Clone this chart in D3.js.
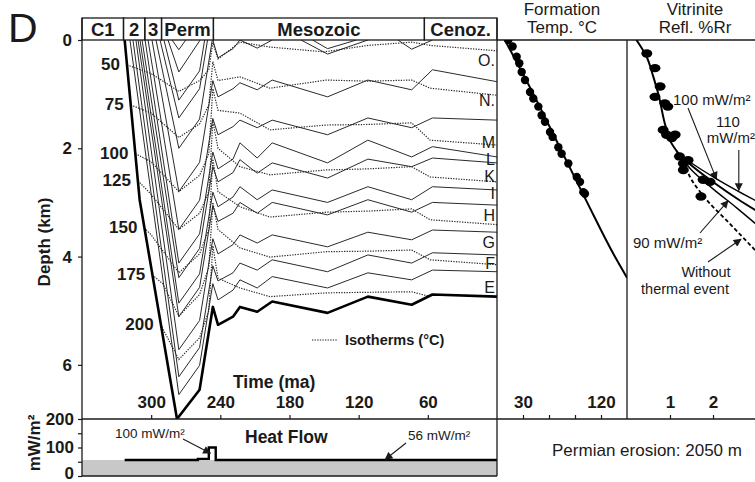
<!DOCTYPE html>
<html>
<head>
<meta charset="utf-8">
<script src="https://cdn.jsdelivr.net/npm/d3@7"></script>
<style>
  body { margin: 0; background: #fff; }
  svg { display: block; font-family: "Liberation Sans", Arial, sans-serif; }
</style>
</head>
<body>
<svg id="chart" width="755" height="482"></svg>
<script>
// ---- data ----------------------------------------------------------
const PERIOD_NAMES = ["C1", "2", "3", "Perm", "Mesozoic", "Cenoz."];
const PERIOD_BOUNDS = [360, 324, 305.5, 291, 246, 63, 0];
const TIME_TICKS = [300, 240, 180, 120, 60];
const DEPTH_TICKS = [0, 2, 4, 6];
const HF_TICKS = [0, 50, 100, 150, 200];
const HF_LABELS = [0, 100, 200];

// burial paths as [age Ma, depth km]
const BASE_PATH = [[323, 0], [310, 2.95], [277.6, 7.0], [258, 6.46], [246.5, 4.93], [242, 5.26], [229, 5.11],
  [223, 4.93], [208, 5.02], [195, 4.83], [147, 5.04], [112, 4.74], [74, 4.89], [56, 4.7], [0, 4.74]];

const ERODED_HORIZONS = [
  [[281.9, 0], [276, 0.18], [270, 0]],
  [[285.4, 0], [276, 0.59], [257.5, 0]],
  [[288.9, 0], [276, 1.11], [258, 0.57], [253.6, 0]],
  [[292.3, 0], [276, 1.44], [258, 0.9], [251.1, 0]],
  [[295.8, 0], [276, 2.0], [258, 1.46], [247, 0]],
];

const DEEP_HORIZONS = [
  [[299.3, 0], [276, 2.8], [258, 2.26], [246.5, 0.75], [242, 1.05], [229, 0.9], [223, 0.79], [208, 0.92], [195, 0.74], [147, 1.05], [112, 0.74], [74, 0.92], [56, 0.55], [0, 0.77]],
  [[302.7, 0], [276, 3.5], [258, 2.96], [246.5, 1.45], [242, 1.75], [229, 1.6], [223, 1.48], [208, 1.62], [195, 1.48], [147, 1.75], [112, 1.44], [74, 1.62], [56, 1.44], [0, 1.48]],
  [[305.3, 0], [276, 4.12], [258, 3.58], [246.5, 2.07], [242, 2.38], [229, 2.2], [223, 1.9], [208, 2.18], [195, 1.9], [147, 2.27], [112, 1.85], [74, 2.16], [56, 1.97], [0, 2.16]],
  [[307.9, 0], [276, 4.39], [258, 3.85], [246.5, 2.34], [242, 2.62], [229, 2.45], [223, 2.21], [208, 2.46], [195, 2.27], [147, 2.55], [112, 2.2], [74, 2.34], [56, 2.18], [0, 2.27]],
  [[309.7, 0], [276, 4.86], [258, 4.32], [246.5, 2.81], [242, 3.08], [229, 2.9], [223, 2.71], [208, 2.95], [195, 2.77], [147, 3.0], [112, 2.71], [74, 2.95], [56, 2.71], [0, 2.77]],
  [[311.4, 0], [276, 5.11], [258, 4.57], [246.5, 3.06], [242, 3.35], [229, 3.2], [223, 3.0], [208, 3.2], [195, 3.0], [147, 3.23], [112, 2.95], [74, 3.18], [56, 3.0], [0, 3.05]],
  [[313.2, 0], [276, 5.72], [258, 5.18], [246.5, 3.67], [242, 3.95], [229, 3.78], [223, 3.6], [208, 3.75], [195, 3.6], [147, 3.82], [112, 3.55], [74, 3.69], [56, 3.51], [0, 3.55]],
  [[315.8, 0], [276, 6.22], [258, 5.68], [246.5, 4.17], [242, 4.45], [229, 4.3], [223, 4.12], [208, 4.25], [195, 4.06], [147, 4.28], [112, 3.97], [74, 4.12], [56, 3.93], [0, 3.97]],
  [[318.4, 0], [276, 6.55], [258, 6.01], [246.5, 4.5], [242, 4.8], [229, 4.62], [223, 4.43], [208, 4.58], [195, 4.37], [147, 4.58], [112, 4.3], [74, 4.43], [56, 4.25], [0, 4.28]],
];

const MESO_HORIZONS = [
  [[246.5, 0], [242, 0.33], [229, 0.16], [223, 0]],
  [[223, 0], [208, 0.15], [195, 0]],
  [[170, 0], [147, 0.26], [112, 0]],
  [[160, 0], [147, 0.16], [122, 0]],
  [[86, 0], [74, 0.17], [56, 0]],
];

const ISO_VALUES = [50, 75, 100, 125, 150, 175, 200];
const ISO_PATHS = [
  [[321, 0.46], [300, 0.62], [276, 0.95], [258, 0.75], [250, 0.55], [246.5, 0.05], [242, 0.35], [223, 0.04], [197, 0.13], [150, 0.22], [112, 0.1], [74, 0.04], [58, 0.1], [0, 0.2]],
  [[317.7, 1.2], [300, 1.35], [276, 1.8], [258, 1.55], [250, 1.2], [246.5, 0.4], [242, 0.75], [223, 0.68], [197, 0.89], [148, 0.74], [112, 0.76], [74, 0.74], [58, 0.89], [0, 1.02]],
  [[313.7, 2.1], [300, 2.25], [276, 2.8], [258, 2.5], [250, 2.1], [246.5, 0.9], [242, 1.3], [223, 1.35], [197, 1.66], [148, 1.57], [112, 1.56], [74, 1.53], [58, 1.85], [0, 1.94]],
  [[311.5, 2.6], [300, 2.85], [276, 3.5], [258, 3.2], [250, 2.8], [246.5, 1.5], [242, 2.0], [223, 2.34], [197, 2.49], [148, 2.4], [112, 2.38], [74, 2.34], [58, 2.53], [0, 2.62]],
  [[305.9, 3.47], [300, 3.6], [276, 4.3], [258, 3.95], [250, 3.5], [246.5, 2.2], [242, 2.8], [223, 3.08], [197, 3.27], [148, 3.18], [112, 3.16], [74, 3.12], [58, 3.32], [0, 3.41]],
  [[299, 4.34], [290, 4.5], [276, 5.1], [258, 4.7], [250, 4.2], [246.5, 3.0], [242, 3.5], [223, 3.84], [197, 4.01], [148, 3.91], [112, 3.9], [74, 3.88], [58, 4.06], [0, 4.15]],
  [[291.7, 5.26], [276, 5.9], [258, 5.5], [250, 5.0], [246.5, 3.8], [242, 4.4], [223, 4.58], [197, 4.74], [148, 4.67], [112, 4.66], [74, 4.65], [58, 4.74], [0, 4.74]],
];

const FORMATION_NAMES = ["O.", "N.", "M", "L", "K", "I", "H", "G", "F", "E"];
const FORMATION_DEPTHS = [0.37, 1.11, 1.88, 2.2, 2.51, 2.82, 3.23, 3.73, 4.12, 4.56];

// heat flow history, [age Ma, mW/m2]
const HEAT_FLOW = [[323, 56], [259.5, 56], [259.5, 60], [250, 60], [250, 100], [244, 100], [244, 56], [0, 56]];
const HEAT_FLOW_BACKGROUND = [[360, 56], [0, 56]];

// present-day formation temperature, [depth km, °C]
const TEMP_POINTS = [[0, 13], [0.12, 18], [0.31, 22.7], [0.43, 25.7], [0.59, 28.5], [0.74, 32.3], [0.96, 38.1],
  [1.08, 41.9], [1.23, 47.7], [1.39, 51.5], [1.51, 55.4], [1.7, 61.2], [1.79, 64.2], [1.98, 70.8], [2.1, 74.6],
  [2.28, 82.3], [2.53, 92], [2.62, 95.8], [2.81, 99.6], [2.84, 101.5]];
const TEMP_FIT = [[0, 9], [1, 42], [2, 73], [3, 104], [4, 136], [4.39, 150]];
const TEMP_TICKS = [30, 60, 90, 120];
const TEMP_LABELS = [30, 120];

// vitrinite reflectance, [depth km, %Rr]
const VR_POINTS = [[0.25, 0.46], [0.52, 0.65], [0.86, 0.77], [1.05, 0.65], [1.23, 0.95], [1.17, 0.88], [1.66, 0.84],
  [1.75, 0.92], [1.75, 1.12], [1.81, 1.04], [2.15, 1.22], [2.28, 1.31], [2.22, 1.42], [2.4, 1.31], [2.58, 1.77],
  [2.62, 1.93], [2.89, 1.72]];
const VR_COMMON = [[0, 0.22], [0.3, 0.45], [0.7, 0.62], [1.0, 0.73], [1.6, 0.9], [1.9, 1.03], [2.1, 1.2]];
const VR_110 = [[2.1, 1.2], [2.3, 1.55], [2.55, 2.05], [2.8, 2.6], [2.97, 3.0]];
const VR_100 = [[2.1, 1.2], [2.35, 1.55], [2.65, 2.05], [2.95, 2.6], [3.15, 3.0]];
const VR_90 = [[2.1, 1.2], [2.4, 1.5], [2.75, 2.0], [3.1, 2.55], [3.4, 3.0]];
const VR_NO_EVENT = [[2.05, 1.15], [2.2, 1.28], [2.58, 1.5], [2.95, 1.85], [3.4, 2.4], [3.9, 3.0]];
const VR_TICKS = [1, 2];

// ---- scales --------------------------------------------------------
const svg = d3.select("#chart");
const x = d3.scaleLinear().domain([360, 0]).range([82, 497]);
const y = d3.scaleLinear().domain([0, 7]).range([40, 419]);
const hf = d3.scaleLinear().domain([0, 200]).range([476, 419]);
const tx = d3.scaleLinear().domain([0, 150]).range([497, 627]);
const vx = d3.scaleLinear().domain([0, 3]).range([627, 756]);

const FONT = '"Liberation Sans", Arial, sans-serif';
const INK = "#1a1a1a";

const defs = svg.append("defs");
defs.append("marker")
  .attr("id", "arrow")
  .attr("viewBox", "0 0 10 10")
  .attr("refX", 9).attr("refY", 5)
  .attr("markerWidth", 10).attr("markerHeight", 8)
  .attr("markerUnits", "userSpaceOnUse")
  .attr("orient", "auto")
  .append("path").attr("d", "M0,0L10,5L0,10Z").attr("fill", INK);

defs.append("clipPath").attr("id", "clip-main")
  .append("rect").attr("x", 82).attr("y", 40).attr("width", 415).attr("height", 379);
defs.append("clipPath").attr("id", "clip-sed")
  .append("path").datum(BASE_PATH)
  .attr("d", d3.area().x(d => x(d[0])).y0(y(0)).y1(d => y(d[1])));
defs.append("clipPath").attr("id", "clip-temp")
  .append("rect").attr("x", 497).attr("y", 40).attr("width", 130).attr("height", 379);
defs.append("clipPath").attr("id", "clip-vr")
  .append("rect").attr("x", 627).attr("y", 40).attr("width", 130).attr("height", 379);

const burial = d3.line().x(d => x(d[0])).y(d => y(d[1]));

// panel label
svg.append("text").attr("x", 8).attr("y", 42).attr("font-size", 41).attr("fill", INK).text("D");

// ---- burial history ------------------------------------------------
const plot = svg.append("g").attr("clip-path", "url(#clip-main)");

plot.append("g").selectAll("path")
  .data([...ERODED_HORIZONS, ...DEEP_HORIZONS, ...MESO_HORIZONS])
  .join("path")
  .attr("d", burial)
  .attr("fill", "none")
  .attr("stroke", "#2a2a2a")
  .attr("stroke-width", 1)
  .attr("stroke-linejoin", "round");

plot.append("g").attr("clip-path", "url(#clip-sed)")
  .selectAll("path")
  .data(ISO_PATHS)
  .join("path")
  .attr("d", burial)
  .attr("fill", "none")
  .attr("stroke", "#2a2a2a")
  .attr("stroke-width", 1.2)
  .attr("stroke-dasharray", "1.3,1.3");

plot.append("path").datum(BASE_PATH)
  .attr("d", burial)
  .attr("fill", "none")
  .attr("stroke", "#000")
  .attr("stroke-width", 2.6)
  .attr("stroke-linejoin", "round");

// isotherm labels at the start of each isotherm
svg.append("g").selectAll("text")
  .data(ISO_PATHS)
  .join("text")
  .attr("x", d => x(d[0][0]) - 7)
  .attr("y", d => y(d[0][1]) + 5)
  .attr("text-anchor", "end")
  .attr("font-size", 17)
  .attr("font-weight", "bold")
  .attr("fill", INK)
  .text((d, i) => ISO_VALUES[i]);

// formation names at the right edge
svg.append("g").selectAll("text")
  .data(FORMATION_NAMES)
  .join("text")
  .attr("x", 495)
  .attr("y", (d, i) => y(FORMATION_DEPTHS[i]) + 6)
  .attr("text-anchor", "end")
  .attr("font-size", 16)
  .attr("fill", INK)
  .text(d => d);

// legend + axis title
svg.append("line")
  .attr("x1", 312).attr("x2", 338).attr("y1", 340).attr("y2", 340)
  .attr("stroke", INK).attr("stroke-width", 1.2).attr("stroke-dasharray", "1.3,1.3");
svg.append("text").attr("x", 345).attr("y", 345)
  .attr("font-size", 14.5).attr("font-weight", "bold").attr("fill", INK).text("Isotherms (°C)");
svg.append("text").attr("x", 233).attr("y", 388)
  .attr("font-size", 17.5).attr("font-weight", "bold").attr("fill", INK).text("Time (ma)");

// period header
const header = svg.append("g");
PERIOD_NAMES.forEach((name, i) => {
  const x0 = x(PERIOD_BOUNDS[i]), x1 = x(PERIOD_BOUNDS[i + 1]);
  header.append("rect")
    .attr("x", x0).attr("y", 18).attr("width", x1 - x0).attr("height", 22)
    .attr("fill", "none").attr("stroke", INK).attr("stroke-width", 1.3);
  header.append("text")
    .attr("x", (x0 + x1) / 2).attr("y", 35.5)
    .attr("text-anchor", "middle")
    .attr("font-size", 18.5).attr("font-weight", "bold").attr("fill", INK)
    .text(name);
});

// ---- heat flow panel -----------------------------------------------
svg.append("path").datum(HEAT_FLOW_BACKGROUND)
  .attr("d", d3.area().x(d => x(d[0])).y0(hf(0)).y1(d => hf(d[1])))
  .attr("fill", "#c8c8c8");

svg.append("path").datum(HEAT_FLOW)
  .attr("d", d3.line().x(d => x(d[0])).y(d => hf(d[1])))
  .attr("fill", "none").attr("stroke", "#000").attr("stroke-width", 2.4);

svg.append("text").attr("x", 245).attr("y", 443)
  .attr("font-size", 17.5).attr("font-weight", "bold").attr("fill", INK).text("Heat Flow");

function note(g, lines, ax, ay, anchor, size, gap = 17) {
  lines.forEach((t, i) => {
    g.append("text").attr("x", ax).attr("y", ay + i * gap)
      .attr("text-anchor", anchor).attr("font-size", size).attr("fill", INK).text(t);
  });
}
function arrow(g, x1, y1, x2, y2) {
  g.append("line").attr("x1", x1).attr("y1", y1).attr("x2", x2).attr("y2", y2)
    .attr("stroke", INK).attr("stroke-width", 1.1).attr("marker-end", "url(#arrow)");
}
const notes = svg.append("g");
note(notes, ["100 mW/m²"], 115, 438, "start", 13.5);
arrow(notes, 183, 439, x(246) - 3, hf(80));
note(notes, ["56 mW/m²"], 408, 440, "start", 13.5);
arrow(notes, 406, 443, x(97), hf(58));

// ---- frames and axes -----------------------------------------------
const frame = svg.append("g").attr("fill", "none").attr("stroke", INK).attr("stroke-width", 1.3);
frame.append("line").attr("x1", 82).attr("x2", 82).attr("y1", 18).attr("y2", 476);
frame.append("line").attr("x1", 497).attr("x2", 497).attr("y1", 18).attr("y2", 476);
frame.append("line").attr("x1", 82).attr("x2", 497).attr("y1", 476).attr("y2", 476);
frame.append("line").attr("x1", 82).attr("x2", 755).attr("y1", 419).attr("y2", 419);
frame.append("line").attr("x1", 497).attr("x2", 755).attr("y1", 40).attr("y2", 40);
frame.append("line").attr("x1", 627).attr("x2", 627).attr("y1", 40).attr("y2", 419);

function styleAxis(g) {
  g.attr("font-family", FONT).attr("font-size", 17).attr("font-weight", "bold");
  g.select(".domain").remove();
  g.selectAll("line").attr("stroke", INK).attr("stroke-width", 1.2);
  g.selectAll("text").attr("fill", INK);
}

svg.append("g")
  .attr("transform", "translate(82,0)")
  .call(d3.axisLeft(y).tickValues(DEPTH_TICKS).tickSize(4).tickPadding(6).tickFormat(d => d))
  .call(styleAxis);

svg.append("g")
  .attr("transform", "translate(0,419)")
  .call(d3.axisTop(x).tickValues(TIME_TICKS).tickSize(4).tickPadding(7).tickFormat(d => d))
  .call(styleAxis);

svg.append("g")
  .attr("transform", "translate(82,0)")
  .call(d3.axisLeft(hf).tickValues(HF_TICKS).tickSize(4).tickPadding(4)
    .tickFormat(d => HF_LABELS.includes(d) ? d : ""))
  .call(styleAxis)
  .call(g => g.selectAll("text").attr("dy", d => d === 0 ? "0.12em" : "0.32em"));

svg.append("g")
  .attr("transform", "translate(0,419)")
  .call(d3.axisTop(tx).tickValues(TEMP_TICKS).tickSize(4).tickPadding(7)
    .tickFormat(d => TEMP_LABELS.includes(d) ? d : ""))
  .call(styleAxis);

svg.append("g")
  .attr("transform", "translate(0,419)")
  .call(d3.axisTop(vx).tickValues(VR_TICKS).tickSize(4).tickPadding(7).tickFormat(d => d))
  .call(styleAxis);

svg.append("text")
  .attr("transform", "translate(50,242) rotate(-90)")
  .attr("text-anchor", "middle").attr("font-size", 17).attr("font-weight", "bold").attr("fill", INK)
  .text("Depth (km)");
svg.append("text")
  .attr("transform", "translate(40,443) rotate(-90)")
  .attr("text-anchor", "middle").attr("font-size", 17).attr("font-weight", "bold").attr("fill", INK)
  .text("mW/m²");

// ---- formation temperature panel ----------------------------------
const temp = svg.append("g").attr("clip-path", "url(#clip-temp)");
temp.append("path").datum(TEMP_FIT)
  .attr("d", d3.line().x(d => tx(d[1])).y(d => y(d[0])).curve(d3.curveMonotoneY))
  .attr("fill", "none").attr("stroke", "#000").attr("stroke-width", 2);
temp.append("g").selectAll("circle")
  .data(TEMP_POINTS)
  .join("circle")
  .attr("cx", d => tx(d[1])).attr("cy", d => y(d[0])).attr("r", 4.2)
  .attr("fill", "#000");

note(svg, ["Formation", "Temp. °C"], 562, 15, "middle", 17, 18);
note(svg, ["Vitrinite", "Refl. %Rr"], 695, 15, "middle", 17, 18);

// ---- vitrinite panel ----------------------------------------------
const vr = svg.append("g").attr("clip-path", "url(#clip-vr)");
const vrLine = d3.line().x(d => vx(d[1])).y(d => y(d[0])).curve(d3.curveMonotoneY);
vr.append("path").datum(VR_COMMON).attr("d", vrLine)
  .attr("fill", "none").attr("stroke", "#000").attr("stroke-width", 2);
[[VR_110, 1.4], [VR_100, 2], [VR_90, 1.4]].forEach(([c, w]) => {
  vr.append("path").datum(c).attr("d", vrLine)
    .attr("fill", "none").attr("stroke", "#000").attr("stroke-width", w);
});
vr.append("path").datum(VR_NO_EVENT).attr("d", vrLine)
  .attr("fill", "none").attr("stroke", "#000").attr("stroke-width", 1.8).attr("stroke-dasharray", "4,2.5");
vr.append("g").selectAll("ellipse")
  .data(VR_POINTS)
  .join("ellipse")
  .attr("cx", d => vx(d[1])).attr("cy", d => y(d[0])).attr("rx", 5.5).attr("ry", 4.2)
  .attr("fill", "#000");

note(notes, ["100 mW/m²"], 673, 105, "start", 15);
arrow(notes, 688, 108, vx(2.08), y(2.57));
note(notes, ["110"], 728, 127, "middle", 15);
note(notes, ["mW/m²"], 755, 143, "end", 15);
arrow(notes, vx(2.6), 150, vx(2.6), y(2.78));
note(notes, ["90 mW/m²"], 633, 248, "start", 15);
arrow(notes, 700, 233, vx(2.35), y(2.97));
note(notes, ["Without"], 706, 277, "middle", 14.5);
note(notes, ["thermal event"], 685, 294, "middle", 14.5);
arrow(notes, 708, 262, vx(2.65), y(3.68));

svg.append("text").attr("x", 647).attr("y", 456)
  .attr("text-anchor", "middle").attr("font-size", 17).attr("fill", INK)
  .text("Permian erosion: 2050 m");
</script>
</body>
</html>
